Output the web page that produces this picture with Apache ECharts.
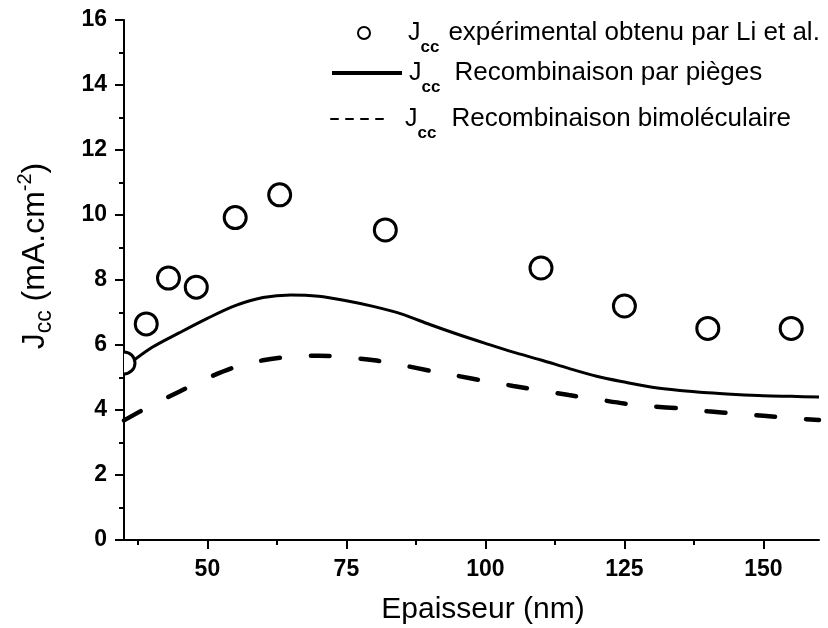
<!DOCTYPE html>
<html>
<head>
<meta charset="utf-8">
<script src="https://cdn.jsdelivr.net/npm/echarts@6/dist/echarts.min.js"></script>
<style>html,body{margin:0;padding:0;background:#fff;}#c{width:828px;height:628px;}</style>
</head>
<body>
<div id="c"></div>
<script>
// ---- data ----
var expX = [35, 39, 43, 48, 55, 63, 82, 110, 125, 140, 155];
var expY = [5.45, 6.65, 8.06, 7.78, 9.92, 10.62, 9.54, 8.37, 7.2, 6.51, 6.51];

var modelX = [35, 40, 45, 50, 55, 60, 65, 70, 75, 80, 85, 90, 95, 100, 105, 110, 115, 120, 125, 130, 135, 140, 145, 150, 155, 160];
var trapY = [5.3, 5.92, 6.38, 6.82, 7.21, 7.46, 7.54, 7.5, 7.36, 7.18, 6.95, 6.63, 6.33, 6.05, 5.78, 5.54, 5.28, 5.04, 4.86, 4.7, 4.6, 4.53, 4.48, 4.44, 4.42, 4.4];
var bimY = [3.68, 4.15, 4.57, 4.98, 5.32, 5.53, 5.64, 5.67, 5.62, 5.53, 5.38, 5.21, 5.05, 4.89, 4.74, 4.6, 4.46, 4.33, 4.2, 4.11, 4.05, 3.96, 3.89, 3.82, 3.75, 3.69];

var xMajorTicks = [50, 75, 100, 125, 150];
var xMinorTicks = [37.5, 62.5, 87.5, 112.5, 137.5];
var names = ['exp', 'trap', 'bim'];
var legendTexts = ['expérimental obtenu par Li et al.', 'Recombinaison par pièges', 'Recombinaison bimoléculaire'];

function pairs(xs, ys) { return xs.map(function (x, i) { return [x, ys[i]]; }); }

var FONT = '"Liberation Sans", Arial, Helvetica, sans-serif';
function makeRich(jPad, tPad) {
  return {
    j: { fontSize: 25, fontFamily: FONT, color: '#000', padding: [0, 0, 0, jPad] },
    s: { fontSize: 17, fontWeight: 'bold', fontFamily: FONT, color: '#000', padding: [28, 0, 0, 0] },
    t: { fontSize: 26, fontFamily: FONT, color: '#000', padding: [0, 0, 0, tPad] }
  };
}
function legendFmt(name) {
  var i = names.indexOf(name);
  return '{j|J}{s|cc}{t|' + legendTexts[i] + '}';
}

var chart = echarts.init(document.getElementById('c'), null, { renderer: 'canvas' });
chart.setOption({
  backgroundColor: '#fff',
  animation: false,
  grid: { left: 124, right: 9, top: 20, bottom: 88, containLabel: false, outerBoundsMode: 'none' },
  legend: [
    {
      data: [{ name: 'exp', icon: 'circle', itemStyle: { color: '#fff', borderColor: '#000', borderWidth: 2 } }],
      left: 357, top: 20, itemWidth: 12, itemHeight: 12, padding: 0,
      formatter: legendFmt, textStyle: { rich: makeRich(33, 9) }
    },
    {
      data: [{ name: 'trap' }],
      left: 330, top: 60, itemWidth: 70, itemHeight: 14, padding: 0,
      lineStyle: { width: 4, color: '#000', type: 'solid' },
      itemStyle: { opacity: 0 },
      formatter: legendFmt, textStyle: { rich: makeRich(2, 14) }
    },
    {
      data: [{ name: 'bim' }],
      left: 330, top: 106, itemWidth: 56, itemHeight: 14, padding: 0,
      lineStyle: { width: 2, color: '#000', type: [7, 8] },
      itemStyle: { opacity: 0 },
      formatter: legendFmt, textStyle: { rich: makeRich(13, 15) }
    }
  ],
  xAxis: [
    {
      type: 'value', min: 35, max: 160,
      name: 'Epaisseur (nm)', nameLocation: 'middle', nameGap: 55,
      nameTextStyle: { fontSize: 30, fontFamily: FONT, color: '#000', padding: [0, 0, 0, 23] },
      axisLine: { show: true, onZero: false, lineStyle: { color: '#000', width: 2 } },
      axisTick: { show: true, length: 9, lineStyle: { color: '#000', width: 2 }, customValues: xMajorTicks },
      axisLabel: { color: '#000', fontSize: 23, fontWeight: 'bold', fontFamily: FONT, margin: 18, customValues: xMajorTicks },
      splitLine: { show: false }
    },
    {
      type: 'value', min: 35, max: 160, position: 'bottom',
      axisLine: { show: false },
      axisTick: { show: true, length: 5, lineStyle: { color: '#000', width: 2 }, customValues: xMinorTicks },
      axisLabel: { show: false },
      splitLine: { show: false }
    }
  ],
  yAxis: {
    type: 'value', min: 0, max: 16, interval: 2,
    name: '{a|J}{b|cc}{a| (mA.cm}{c|-2}{a|)}', nameLocation: 'middle', nameGap: 68,
    nameTextStyle: {
      padding: [0, 0, 0, 48],
      rich: {
        a: { fontSize: 32, fontFamily: FONT, color: '#000' },
        b: { fontSize: 23, fontFamily: FONT, color: '#000', padding: [18, 0, 0, 0] },
        c: { fontSize: 20, fontFamily: FONT, color: '#000', padding: [0, 0, 20, 0] }
      }
    },
    axisLine: { show: true, onZero: false, lineStyle: { color: '#000', width: 2 } },
    axisTick: { show: true, length: 9, lineStyle: { color: '#000', width: 2 } },
    minorTick: { show: true, splitNumber: 2, length: 5, lineStyle: { color: '#000', width: 2 } },
    axisLabel: { color: '#000', fontSize: 23, fontWeight: 'bold', fontFamily: FONT, margin: 17 },
    splitLine: { show: false }
  },
  series: [
    {
      name: 'trap', type: 'line', data: pairs(modelX, trapY), smooth: 0.3,
      symbol: 'none', itemStyle: { color: '#000' }, lineStyle: { color: '#000', width: 3 }, z: 2
    },
    {
      name: 'bim', type: 'line', data: pairs(modelX, bimY), smooth: 0.3,
      symbol: 'none', itemStyle: { color: '#000' }, lineStyle: { color: '#000', width: 4.5, type: [19, 31], cap: 'round' }, z: 2
    },
    {
      name: 'exp', type: 'custom', data: pairs(expX, expY), encode: { x: 0, y: 1 }, clip: true, z: 3,
      itemStyle: { color: '#fff', borderColor: '#000' },
      renderItem: function (params, api) {
        var p = api.coord([api.value(0), api.value(1)]);
        return {
          type: 'circle',
          shape: { cx: p[0], cy: p[1], r: 11 },
          style: { fill: '#fff', stroke: '#000', lineWidth: 3 }
        };
      }
    }
  ]
});
</script>
</body>
</html>
